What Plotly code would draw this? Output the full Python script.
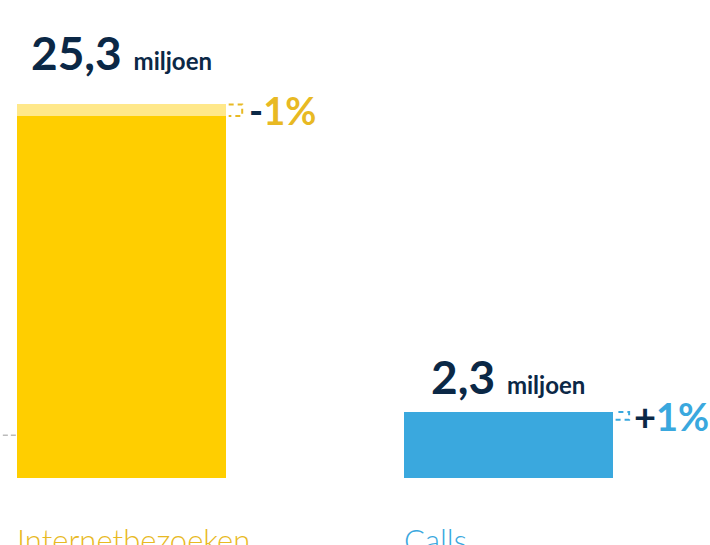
import plotly.graph_objects as go

# ---- data ----
categories = ["Internetbezoeken", "Calls"]
current = [25.3, 2.3]          # miljoen
previous = [26.2, 1.7]         # earlier period (as drawn)
changes = ["-1%", "+1%"]
unit = "miljoen"
reference_level = 0.5

# ---- style ----
NAVY = "#0B2846"
bar_colors = ["#FFCE00", "#3AA8DE"]
prev_colors = ["#FFE88A", "#9FD3EF"]
accent_colors = ["#E8B923", "#3AA8DE"]
label_colors = ["#E8B923", "#3AA8DE"]
BAR_W = 0.54
BASE = -2.83
XMIN, XMAX = -0.314, 1.521
YMIN, YMAX = -8.03, 34.31
LABEL_LIFT = [22, 6]
CHANGE_SHIFT = [21, 19]
FONT = "Lato"

x = list(range(len(categories)))

fig = go.Figure()
# previous period (light) behind
fig.add_trace(go.Bar(
    x=x, y=[p - BASE for p in previous], base=[BASE] * len(x), width=BAR_W,
    marker=dict(color=prev_colors, line=dict(width=0)), hoverinfo="skip", showlegend=False,
))
# current period on top
fig.add_trace(go.Bar(
    x=x, y=[c - BASE for c in current], base=[BASE] * len(x), width=BAR_W,
    marker=dict(color=bar_colors, line=dict(width=0)), hoverinfo="skip", showlegend=False,
))

annotations = []
shapes = []
for i, cat in enumerate(categories):
    c, p = current[i], previous[i]
    val = f"{c:.1f}".replace(".", ",")
    annotations.append(dict(
        x=i, y=max(c, p), xref="x", yref="y", xanchor="center", yanchor="bottom",
        yshift=LABEL_LIFT[i], showarrow=False,
        text=f"<b>{val}</b> <b><span style='font-size:24px'>{unit}</span></b>",
        font=dict(family=FONT, size=46, color=NAVY),
    ))
    sign, rest = changes[i][0], changes[i][1:]
    annotations.append(dict(
        x=i + BAR_W / 2, y=(c + p) / 2, xref="x", yref="y", xanchor="left", yanchor="middle",
        xshift=CHANGE_SHIFT[i], showarrow=False,
        text=f"<b><span style='color:{NAVY}'>{sign}</span>{rest}</b>",
        font=dict(family=FONT, size=38, color=accent_colors[i]),
    ))
    annotations.append(dict(
        x=i - BAR_W / 2, y=-6.0, xref="x", yref="y", xanchor="left", yanchor="top",
        xshift=-2, showarrow=False, text=cat,
        font=dict(family=FONT, size=31, color=label_colors[i], weight=300),
    ))
    r = i + BAR_W / 2
    d = 0.042
    shapes.append(dict(
        type="path", xref="x", yref="y",
        path=f"M {r + 0.007},{p} L {r + d},{p} L {r + d},{c} L {r + 0.007},{c}",
        line=dict(color=accent_colors[i], width=2, dash="5px,4px"),
    ))

shapes.append(dict(
    type="line", xref="paper", yref="y", x0=0.004, x1=0.05, y0=reference_level, y1=reference_level,
    line=dict(color="#BBBBBB", width=1.5, dash="5px,3px"), layer="below",
))

fig.update_layout(
    width=710, height=545, autosize=False,
    margin=dict(l=0, r=0, t=0, b=0),
    paper_bgcolor="white", plot_bgcolor="rgba(0,0,0,0)",
    barmode="overlay", bargap=0,
    xaxis=dict(range=[XMIN, XMAX], visible=False, fixedrange=True),
    yaxis=dict(range=[YMIN, YMAX], visible=False, fixedrange=True),
    annotations=annotations, shapes=shapes,
    showlegend=False,
)
fig.write_html(
    "out.html",
    config={"displayModeBar": False},
    post_script="document.body.style.margin='0px';document.body.style.overflow='hidden';",
)
